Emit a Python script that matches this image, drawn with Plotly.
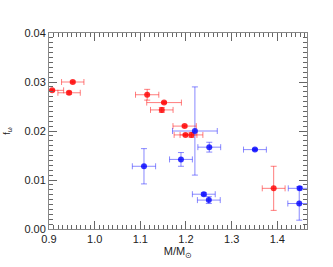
import plotly.graph_objects as go

# Red series
red_x = [0.907, 0.952, 0.944, 1.115, 1.152, 1.147, 1.197, 1.199, 1.212, 1.392]
red_y = [0.0283, 0.0300, 0.0278, 0.0274, 0.0258, 0.0243, 0.0210, 0.0192, 0.0192, 0.0083]
red_xerr = [0.025, 0.0245, 0.0245, 0.0255, 0.038, 0.0247, 0.0255, 0.025, 0.025, 0.025]
red_yerr = [0.0002, 0.0002, 0.0003, 0.0011, 0.0002, 0.0005, 0.0002, 0.0002, 0.0005, 0.0045]

# Blue series
blue_x = [1.108, 1.189, 1.2195, 1.251, 1.351, 1.239, 1.250, 1.449, 1.448]
blue_y = [0.0128, 0.0142, 0.0200, 0.0167, 0.0162, 0.0071, 0.0059, 0.0083, 0.0052]
blue_xerr = [0.0255, 0.025, 0.049, 0.025, 0.025, 0.025, 0.025, 0.025, 0.025]
blue_yerr = [0.0036, 0.0014, 0.009, 0.001, 0.0002, 0.0003, 0.0007, 0.0003, 0.0034]

x_ticks = [0.9, 1.0, 1.1, 1.2, 1.3, 1.4]
x_ticklabels = ["0.9", "1.0", "1.1", "1.2", "1.3", "1.4"]
y_ticks = [0.00, 0.01, 0.02, 0.03, 0.04]
y_ticklabels = ["0.00", "0.01", "0.02", "0.03", "0.04"]

fig = go.Figure()

def add_series(xs, ys, xe, ye, mcolor, ecolor):
    fig.add_trace(go.Scatter(
        x=xs, y=ys, mode="markers",
        marker=dict(size=6, color=mcolor, line=dict(width=0)),
        error_x=dict(type="data", array=xe, color=ecolor, thickness=1, width=3),
        error_y=dict(type="data", array=ye, color=ecolor, thickness=1, width=3),
        showlegend=False,
    ))

add_series(red_x, red_y, red_xerr, red_yerr, "rgba(255,0,0,0.8)", "rgba(255,40,40,0.6)")
add_series(blue_x, blue_y, blue_xerr, blue_yerr, "rgba(0,0,255,0.8)", "rgba(40,40,255,0.55)")

axis_common = dict(
    ticks="inside", mirror="ticks", showline=True, linecolor="#888", linewidth=1,
    tickcolor="#666", ticklen=8, tickwidth=1, showgrid=False, zeroline=False,
    automargin=False,
    tickfont=dict(family="Liberation Sans, Arial", size=11, color="#222"),
)

fig.update_xaxes(
    range=[0.9, 1.465], tickvals=x_ticks, ticktext=x_ticklabels,
    minor=dict(dtick=0.01, tick0=0.9, ticks="inside", ticklen=4, tickcolor="#666", showgrid=False),
    title=dict(text="M/M<sub>⊙</sub>", font=dict(family="Liberation Sans, Arial", size=11, color="#222"), standoff=0),
    **axis_common,
)
fig.update_yaxes(
    range=[0.0, 0.04], tickvals=y_ticks, ticktext=y_ticklabels,
    minor=dict(dtick=0.001, tick0=0, ticks="inside", ticklen=4, tickcolor="#666", showgrid=False),
    title=dict(text="f<sub>ω</sub>", font=dict(family="Liberation Sans, Arial", size=9, color="#222"), standoff=12),
    **axis_common,
)

fig.update_layout(
    width=333, height=267,
    margin=dict(l=49, r=26, t=33, b=38),
    plot_bgcolor="white", paper_bgcolor="white",
)

fig.write_html("out.html", config={"displayModeBar": False},
               post_script="document.body.style.margin='0';")
